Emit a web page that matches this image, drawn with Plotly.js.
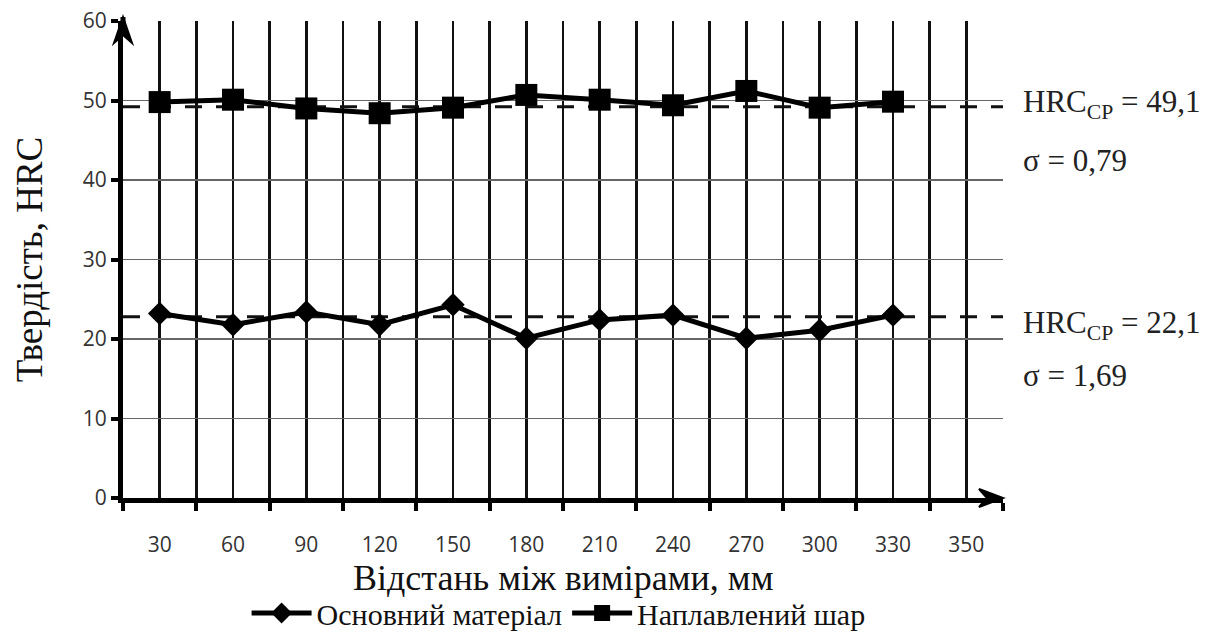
<!DOCTYPE html>
<html><head><meta charset="utf-8">
<script src="https://cdn.plot.ly/plotly-3.0.1.min.js"></script>
<style>body{margin:0;background:#fff}#c{width:1226px;height:639px}</style>
</head><body><div id="c"></div>
<script>
const distLabels = ['30','60','90','120','150','180','210','240','270','300','330','350'];
const baseMaterial = [23.2, 21.8, 23.4, 21.8, 24.3, 20.1, 22.4, 23.0, 20.1, 21.1, 23.0];
const depositedLayer = [49.8, 50.1, 49.0, 48.4, 49.1, 50.7, 50.1, 49.4, 51.2, 49.1, 49.85];
const meanLineBase = 22.8;
const meanLineDeposited = 49.2;
const statTexts = ['HRC<sub>CP</sub> = 49,1','σ = 0,79','HRC<sub>CP</sub> = 22,1','σ = 1,69'];
const statY = [49.6, 42.5, 21.8, 15.4];
const xTitle = 'Відстань між вимірами, мм';

const idx = distLabels.map((_, i) => i);
const xPts = baseMaterial.map((_, i) => i);
const xEdge = [-0.5, distLabels.length - 0.5];

const traces = [
  {x: xEdge, y: [meanLineDeposited, meanLineDeposited], mode: 'lines', line: {color: '#111', width: 3, dash: '17px,14px'}, showlegend: false, hoverinfo: 'skip'},
  {x: xEdge, y: [meanLineBase, meanLineBase], mode: 'lines', line: {color: '#111', width: 3, dash: '17px,14px'}, showlegend: false, hoverinfo: 'skip'},
  {x: xPts, y: baseMaterial, name: 'Основний матеріал', mode: 'lines+markers', line: {color: '#000', width: 5}, marker: {symbol: 'diamond', size: 18, color: '#000'}},
  {x: xPts, y: depositedLayer, name: 'Наплавлений шар', mode: 'lines+markers', line: {color: '#000', width: 5}, marker: {symbol: 'square', size: 22, color: '#000'}}
];

const annotations = statTexts.map((t, i) => ({
  xref: 'paper', yref: 'y', x: 1.02, y: statY[i], xanchor: 'left', yanchor: 'middle',
  text: t, showarrow: false, font: {family: 'Liberation Serif', size: 31, color: '#222'}
}));
annotations.push({xref: 'paper', yref: 'paper', x: 0.5, y: 0, xanchor: 'center', yanchor: 'middle', yshift: -80,
  text: xTitle, showarrow: false, font: {family: 'Liberation Serif', size: 36, color: '#111'}});

const shapes = [
  {type: 'path', xref: 'paper', yref: 'paper', xsizemode: 'pixel', ysizemode: 'pixel', xanchor: 0, yanchor: 1,
   path: 'M -9 -22 L 0 4 L 9 -22 L 0 -14 Z', fillcolor: '#000', line: {color: '#000', width: 2}},
  {type: 'line', xref: 'paper', yref: 'paper', xsizemode: 'pixel', ysizemode: 'pixel', xanchor: 0, yanchor: 1,
   x0: 0, x1: 0, y0: -10, y1: 4, line: {color: '#000', width: 5}},
  {type: 'path', xref: 'paper', yref: 'paper', xsizemode: 'pixel', ysizemode: 'pixel', xanchor: 1, yanchor: 0,
   path: 'M -24 9 L 0 0 L -24 -9 L -16 0 Z', fillcolor: '#000', line: {color: '#000', width: 2}}
];

const layout = {
  width: 1226, height: 639,
  margin: {l: 123, r: 223, t: 21, b: 141},
  paper_bgcolor: '#fff', plot_bgcolor: '#fff',
  showlegend: true,
  legend: {orientation: 'h', x: 0.495, xanchor: 'center', yref: 'container', y: 0.0, yanchor: 'bottom', font: {family: 'Liberation Serif', size: 30, color: '#111'}, traceorder: 'normal', itemwidth: 60},
  xaxis: {
    range: xEdge, tickvals: idx, ticktext: distLabels, ticks: 'outside', ticklen: 24, tickcolor: 'rgba(0,0,0,0)', showgrid: true, gridcolor: '#111', gridwidth: 2.5,
    tickfont: {family: 'Open Sans', size: 21, color: '#333'},
    showline: true, linecolor: '#000', linewidth: 5, zeroline: false, automargin: false,
    minor: {tick0: -0.5, dtick: 1, showgrid: true, gridcolor: '#111', gridwidth: 2.5, ticks: 'outside', ticklen: 8, tickwidth: 4, tickcolor: '#000'}
  },
  yaxis: {
    range: [0, 60], dtick: 10, showgrid: true, gridcolor: '#666', gridwidth: 1.5,
    ticks: 'outside', ticklen: 7, tickwidth: 4, tickcolor: '#000',
    tickfont: {family: 'Open Sans', size: 21, color: '#333'}, automargin: false,
    showline: true, linecolor: '#000', linewidth: 5, zeroline: false,
    title: {text: 'Твердість, HRC', font: {family: 'Liberation Serif', size: 37, color: '#111'}, standoff: 30}
  },
  annotations: annotations,
  shapes: shapes
};
Plotly.newPlot('c', traces, layout, {displayModeBar: false, staticPlot: true});
</script></body></html>
